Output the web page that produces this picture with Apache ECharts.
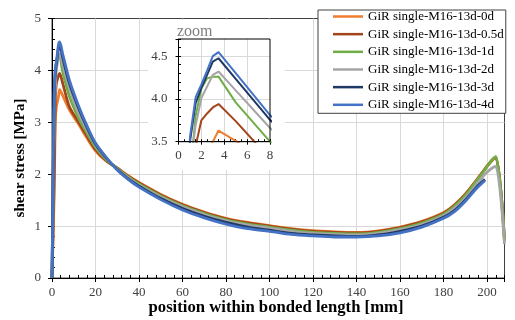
<!DOCTYPE html>
<html><head><meta charset="utf-8">
<script src="https://cdn.jsdelivr.net/npm/echarts@6/dist/echarts.min.js"></script>
<style>html,body{margin:0;padding:0;background:#fff}#c{width:515px;height:320px}</style>
</head><body><div id="c"></div>
<script>
// position within bonded length [mm]
const positions = [0, 1, 1.5, 2, 2.5, 3, 3.5, 5, 8, 12, 16, 20, 25, 30, 35, 40, 50, 60, 70, 80, 90, 100, 110, 120, 130, 140, 150, 160, 170, 180, 185, 190, 195, 199, 202, 204, 208];

const seriesNames = ['GiR single-M16-13d-0d', 'GiR single-M16-13d-0.5d', 'GiR single-M16-13d-1d',
                     'GiR single-M16-13d-2d', 'GiR single-M16-13d-3d', 'GiR single-M16-13d-4d'];

// shear stress [MPa]
const s0d  = [0, 1.6, 3.0, 3.3, 3.4, 3.5, 3.63, 3.51, 3.24, 2.98, 2.70, 2.45, 2.25, 2.12, 1.97, 1.84, 1.61, 1.42, 1.27, 1.15, 1.07, 1.01, 0.95, 0.91, 0.89, 0.88, 0.91, 0.98, 1.09, 1.26, 1.41, 1.62, 1.88, 2.10, 2.25, 2.32, 0.72];
const s05d = [0, 2.0, 3.45, 3.75, 3.83, 3.90, 3.94, 3.74, 3.30, 3.02, 2.74, 2.48, 2.26, 2.115, 1.96, 1.83, 1.60, 1.41, 1.26, 1.14, 1.06, 1.00, 0.94, 0.90, 0.88, 0.87, 0.90, 0.97, 1.08, 1.25, 1.40, 1.61, 1.87, 2.10, 2.26, 2.33, 0.72];
const s1d  = [0, 3.1, 3.8, 4.12, 4.24, 4.26, 4.26, 3.96, 3.50, 3.10, 2.80, 2.52, 2.28, 2.11, 1.95, 1.81, 1.58, 1.39, 1.24, 1.12, 1.04, 0.98, 0.92, 0.88, 0.86, 0.85, 0.88, 0.95, 1.06, 1.23, 1.38, 1.59, 1.86, 2.09, 2.26, 2.34, 0.73];
const s2d  = [0, 3.2, 3.69, 4.01, 4.145, 4.28, 4.32, 4.10, 3.66, 3.20, 2.86, 2.56, 2.30, 2.10, 1.93, 1.79, 1.56, 1.37, 1.22, 1.10, 1.02, 0.96, 0.90, 0.86, 0.84, 0.83, 0.86, 0.93, 1.03, 1.20, 1.34, 1.54, 1.80, 2.00, 2.11, 2.15, 0.65];
const s3d  = [0, 3.5, 3.95, 4.13, 4.28, 4.435, 4.475, 4.235, 3.755, 3.30, 2.91, 2.58, 2.31, 2.09, 1.91, 1.77, 1.53, 1.34, 1.19, 1.07, 0.98, 0.92, 0.86, 0.83, 0.81, 0.80, 0.83, 0.90, 1.00, 1.17, 1.30, 1.50, 1.74, 1.90, null, null, null];
const s4d  = [0, 3.55, 4.02, 4.17, 4.33, 4.50, 4.547, 4.30, 3.81, 3.34, 2.94, 2.60, 2.32, 2.08, 1.90, 1.75, 1.51, 1.31, 1.16, 1.04, 0.95, 0.90, 0.84, 0.81, 0.79, 0.79, 0.81, 0.87, 0.98, 1.15, 1.28, 1.48, 1.72, 1.88, null, null, null];

const seriesValues = [s0d, s05d, s1d, s2d, s3d, s4d];
const colors = ['#ED7D31', '#A3441A', '#70AD47', '#A5A5A5', '#203864', '#4472C4'];

const FONT = '"Liberation Serif", "Times New Roman", serif';
const LABEL = { fontFamily: FONT, fontSize: 13, color: '#404040' };
const GRIDLINE = { show: true, showMinLine: false, showMaxLine: false, lineStyle: { color: '#D9D9D9', width: 1 } };

function pts(vals) {
  return positions.map((x, i) => [x, vals[i]]).filter(p => p[1] !== null && p[1] !== undefined);
}

function mainAxis(o) {
  return Object.assign({
    type: 'value',
    axisLine: { show: true, onZero: false, lineStyle: { color: '#000', width: 1 } },
    axisTick: { show: true, inside: false, length: 4, lineStyle: { color: '#000' } },
    splitLine: GRIDLINE,
  }, o);
}
function overlayAxis(o) {
  return Object.assign({
    type: 'value',
    axisLine: { show: false, onZero: false },
    axisTick: { show: true, inside: true, length: 3, lineStyle: { color: '#000' } },
    axisLabel: { show: false },
    splitLine: { show: false },
  }, o);
}

const series = [];
seriesNames.forEach((name, i) => {
  series.push({
    type: 'line', name, xAxisIndex: 0, yAxisIndex: 0, data: pts(seriesValues[i]),
    symbol: 'none', showSymbol: false, smooth: 0.3,
    lineStyle: { width: 2.8, color: colors[i] }, itemStyle: { color: colors[i] },
    z: 2, clip: true
  });
});
seriesNames.forEach((name, i) => {
  series.push({
    type: 'line', name, xAxisIndex: 2, yAxisIndex: 2, data: pts(seriesValues[i]),
    symbol: 'none', showSymbol: false, lineStyle: { width: 2, color: colors[i] }, itemStyle: { color: colors[i] },
    z: 4, clip: true
  });
});

const chart = echarts.init(document.getElementById('c'), null, { renderer: 'canvas' });
chart.setOption({
  animation: false,
  backgroundColor: '#fff',
  grid: [
    { left: 52, top: 18.5, width: 452.5, height: 259.5, show: true, borderColor: '#404040', borderWidth: 1, backgroundColor: 'transparent', z: 0 },
    { left: 178.5, top: 39, width: 91.5, height: 102.7, show: true, borderColor: '#000', borderWidth: 1, backgroundColor: 'transparent', z: 5 }
  ],
  xAxis: [
    mainAxis({ gridIndex: 0, position: 'bottom', min: 0, max: 208, interval: 20,
      axisLabel: Object.assign({ margin: 8, formatter: v => (v % 20 === 0 ? String(v) : '') }, LABEL) }),
    overlayAxis({ gridIndex: 0, position: 'bottom', min: 0, max: 208, interval: 4 }),
    mainAxis({ gridIndex: 1, position: 'bottom', min: 0, max: 8, interval: 2, z: 3,
      axisTick: { show: true, inside: false, length: 3, lineStyle: { color: '#000' } },
      axisLabel: Object.assign({ margin: 7, formatter: v => (v % 2 === 0 ? String(v) : '') }, LABEL) }),
    overlayAxis({ gridIndex: 1, position: 'bottom', min: 0, max: 8, interval: 0.5, z: 3,
      axisTick: { show: true, inside: true, length: 2.5, lineStyle: { color: '#000' } } })
  ],
  yAxis: [
    mainAxis({ gridIndex: 0, position: 'left', min: 0, max: 5, interval: 1,
      axisLabel: Object.assign({ margin: 11 }, LABEL) }),
    overlayAxis({ gridIndex: 0, position: 'left', min: 0, max: 5, interval: 0.2 }),
    mainAxis({ gridIndex: 1, position: 'left', min: 3.5, max: 4.7, interval: 0.5, z: 3,
      axisTick: { show: true, inside: false, length: 3, lineStyle: { color: '#000' } },
      axisLabel: Object.assign({ margin: 11, formatter: v => (Math.abs(v * 2 - Math.round(v * 2)) < 1e-6 ? v.toFixed(1) : '') }, LABEL) }),
    overlayAxis({ gridIndex: 1, position: 'left', min: 3.5, max: 4.7, interval: 0.1, z: 3,
      axisTick: { show: true, inside: true, length: 2.5, lineStyle: { color: '#000' } } })
  ],
  legend: {
    data: seriesNames.map(n => ({ name: n, icon: 'path://M0,0L30,0L30,2.5L0,2.5Z' })),
    orient: 'vertical',
    left: 318, top: 10,
    padding: [0, 2, 2, 15],
    itemWidth: 30, itemHeight: 12, itemGap: 4.66,
    backgroundColor: '#fff', borderColor: '#404040', borderWidth: 1,
    textStyle: { fontFamily: FONT, fontSize: 13, color: '#000', lineHeight: 12 },
    z: 6
  },
  graphic: [
    { type: 'rect', z: 1, shape: { x: 148, y: 20, width: 137, height: 150 }, style: { fill: '#fff' } },
    { type: 'text', z: 6, x: 177, y: 31.5,
      style: { text: 'zoom', font: '16px ' + FONT, fill: '#7F7F7F', textAlign: 'left', align: 'left', textVerticalAlign: 'middle', verticalAlign: 'middle' } },
    { type: 'text', z: 6, x: 20, y: 158, rotation: Math.PI / 2,
      style: { text: 'shear stress [MPa]', font: 'bold 15px ' + FONT, fill: '#000', textAlign: 'center', align: 'center', textVerticalAlign: 'middle', verticalAlign: 'middle' } },
    { type: 'text', z: 6, x: 276, y: 308,
      style: { text: 'position within bonded length [mm]', font: 'bold 16.7px ' + FONT, fill: '#000', textAlign: 'center', align: 'center', textVerticalAlign: 'middle', verticalAlign: 'middle' } }
  ],
  series
});
</script>
</body></html>
